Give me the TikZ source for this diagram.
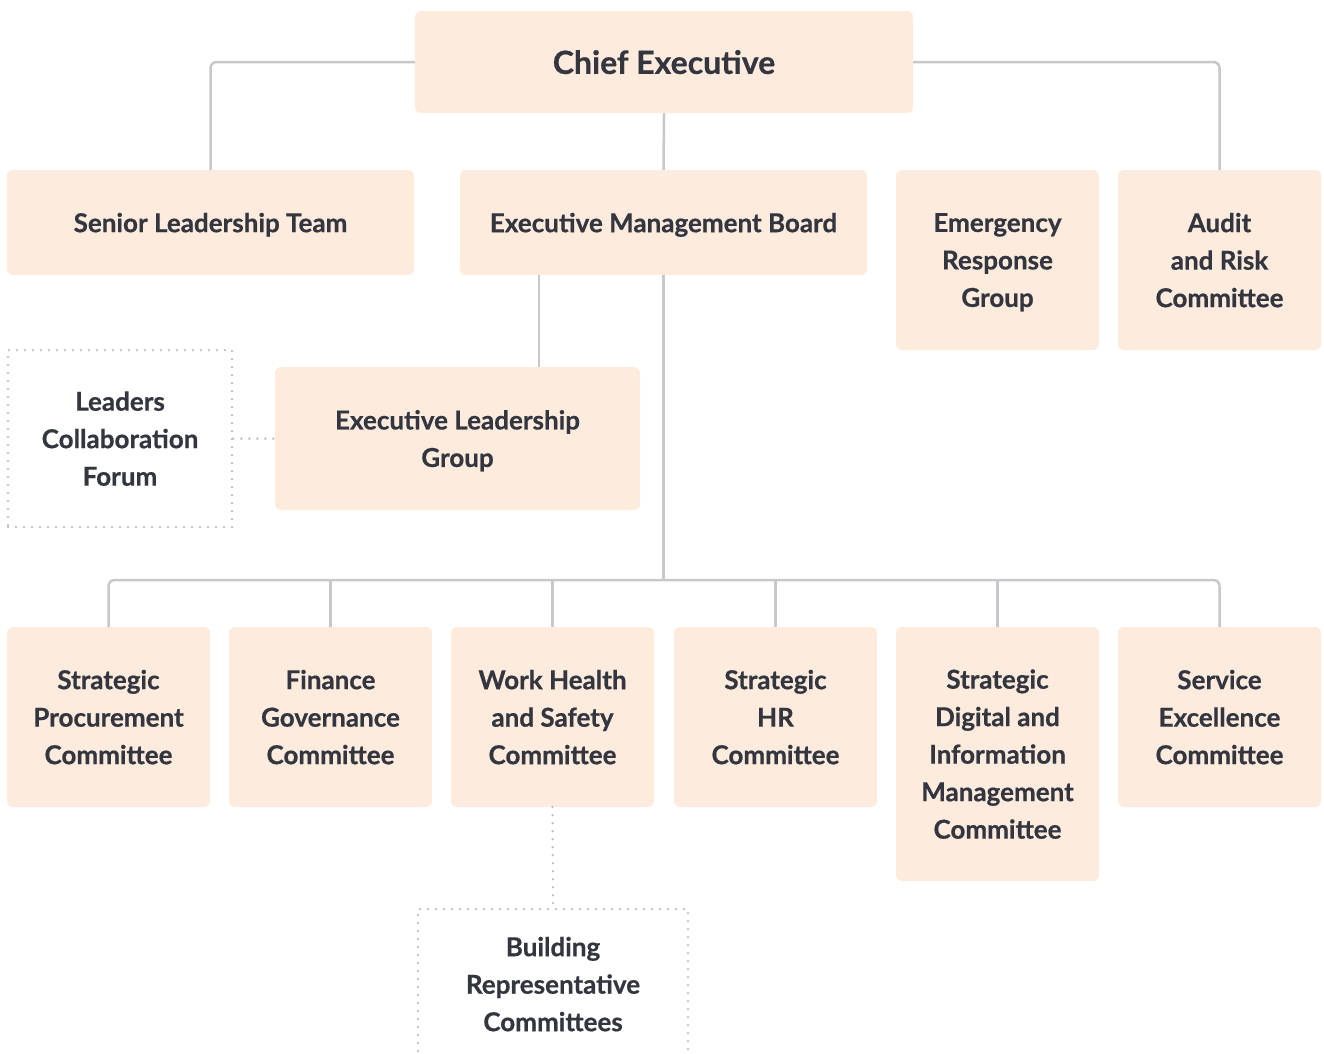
\documentclass[tikz,border=0pt]{standalone}
\usepackage{fontspec}
\setmainfont{Lato}[BoldFeatures={FakeBold=0.6}]
\usetikzlibrary{positioning}
\definecolor{boxfill}{HTML}{FDEBDE}
\definecolor{boxtext}{HTML}{33353F}
\definecolor{linkgray}{HTML}{C8C8CC}
\definecolor{dotgray}{HTML}{BBBBBB}

\begin{document}
\begin{tikzpicture}[
    x=1pt, y=-1pt,
    % Core body box styling
    base/.style={
        fill=boxfill,
        text=boxtext,
        align=center,
        inner sep=0pt,
        text depth=0pt,
        rounded corners=6pt,
        font=\fontsize{26}{37.5}\selectfont\bfseries
    },
    top_body/.style={base, minimum width=498pt, minimum height=102pt, font=\fontsize{32}{40}\selectfont\bfseries},
    board/.style={base, minimum width=407pt, minimum height=105pt},
    group/.style={base, minimum width=203pt, minimum height=180pt},
    committee/.style={base, minimum width=203pt, minimum height=180pt},
    forum/.style={base, fill=none, draw=dotgray, line width=2.5pt, dash pattern=on 0pt off 8pt, line cap=round, rounded corners=0pt},
    % Connector helpers
    link/.style={draw=linkgray, line width=2.5pt, rounded corners=6pt},
    dotlink/.style={draw=dotgray, line width=2.5pt, dash pattern=on 0pt off 8pt, line cap=round}
]
    \useasboundingbox (0,0) rectangle (1324,1053);

    % ==========================================
    % 1. TOP LEVEL
    % ==========================================
    \node[top_body] (ceo) at (664,62) {Chief Executive};

    \node[board] (slt) at (210.5,222.5) {Senior Leadership Team};
    \node[board] (emb) at (663.5,222.5) {Executive Management Board};
    \node[group] (erg) at (997.5,260) {Emergency\\Response\\Group};
    \node[group] (arc) at (1219.5,260) {Audit\\and Risk\\Committee};

    % ==========================================
    % 2. MIDDLE LEVEL
    % ==========================================
    \node[base, minimum width=365pt, minimum height=143pt] (elg) at (457.5,438.5) {Executive Leadership\\Group};
    \node[forum, minimum width=224pt, minimum height=177pt] (lcf) at (120,438.5) {Leaders\\Collaboration\\Forum};

    % ==========================================
    % 3. COMMITTEE ROW
    % ==========================================
    \node[committee] (spc) at (108.5,717) {Strategic\\Procurement\\Committee};
    \node[committee] (fgc) at (330.5,717) {Finance\\Governance\\Committee};
    \node[committee] (whs) at (552.5,717) {Work Health\\and Safety\\Committee};
    \node[committee] (hrc) at (775.5,717) {Strategic\\HR\\Committee};
    \node[committee, minimum height=254pt] (dim) at (997.5,754) {Strategic\\Digital and\\Information\\Management\\Committee};
    \node[committee] (sec) at (1219.5,717) {Service\\Excellence\\Committee};

    \node[forum, minimum width=270pt, minimum height=150pt] (brc) at (553,984) {Building\\Representative\\Committees};

    % Main Line Connections
    \coordinate (emb_left) at (539,275);
    \coordinate (bus) at (663.5,580);
    \draw[link] (ceo.west) -| (slt.north);
    \draw[link] (ceo.east) -| (arc.north);
    \draw[link] (ceo.south) -- (emb.north);
    \draw[link] (emb_left) -- (emb_left |- elg.north);
    \draw[link] (emb.south) -- (bus);
    \draw[link] (spc.north) |- (bus) -| (sec.north);
    \draw[link] (fgc.north) -- (fgc.north |- bus);
    \draw[link] (whs.north) -- (whs.north |- bus);
    \draw[link] (hrc.north) -- (hrc.north |- bus);
    \draw[link] (dim.north) -- (dim.north |- bus);

    % Dotted Advisory Connections
    \draw[dotlink] (lcf.east) -- (elg.west);
    \draw[dotlink] (whs.south) -- (brc.north);

\end{tikzpicture}
\end{document}
